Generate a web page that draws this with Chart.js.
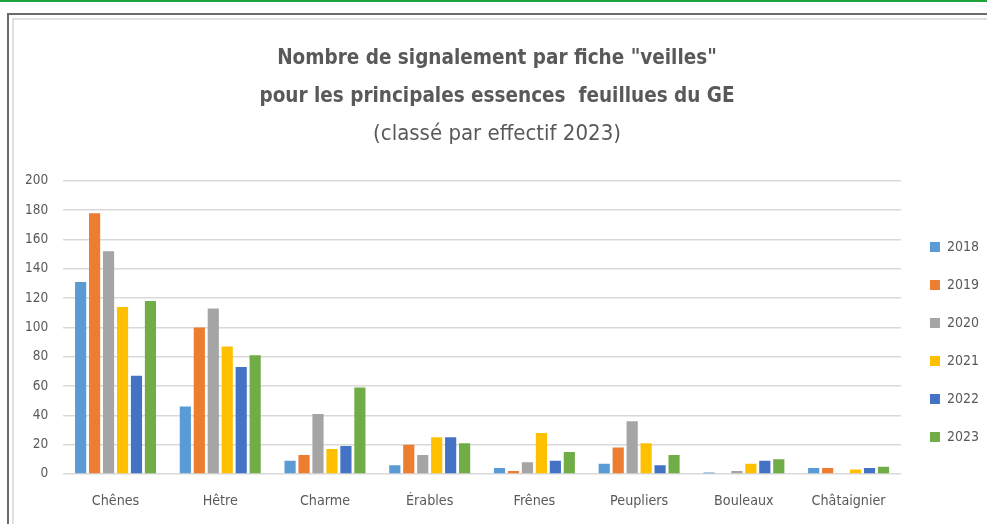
<!DOCTYPE html>
<html lang="fr">
<head>
<meta charset="UTF-8">
<title>Signalements veilles - feuillus GE</title>
<script src="https://cdn.jsdelivr.net/npm/chart.js@4.4.1/dist/chart.umd.min.js"></script>
<style>
    body { margin: 0; background: #fff; width: 987px; height: 524px; overflow: hidden; position: relative; }
    .topline { position: absolute; left: 0; top: 0; width: 987px; height: 2px; background: #1ea33a; }
    .frame { position: absolute; left: 7px; top: 13px; width: 1000px; height: 530px;
             border-left: 2px solid #6b6b6b; border-top: 2px solid #6b6b6b; }
    .inner { position: absolute; left: 3px; top: 3px; width: 1000px; height: 530px;
             border-left: 2px solid #e0e0e0; border-top: 2px solid #e0e0e0; }
    .chart-box { position: absolute; left: 0; top: 20px; width: 987px; height: 504px; }
</style>
</head>
<body>
<div class="topline"></div>
<div class="frame"><div class="inner"></div></div>
<div class="chart-box"><canvas id="veilles"></canvas></div>
<script>
    // essences classées par effectif 2023
    const essences = ["Chênes", "Hêtre", "Charme", "Érables", "Frênes", "Peupliers", "Bouleaux", "Châtaignier"];
    const annees = ["2018", "2019", "2020", "2021", "2022", "2023"];

    const v2018 = [131, 46, 9, 6, 4, 7, 1, 4];
    const v2019 = [178, 100, 13, 20, 2, 18, 0, 4];
    const v2020 = [152, 113, 41, 13, 8, 36, 2, 0];
    const v2021 = [114, 87, 17, 25, 28, 21, 7, 3];
    const v2022 = [67, 73, 19, 25, 9, 6, 9, 4];
    const v2023 = [118, 81, 59, 21, 15, 13, 10, 5];

    const couleurs = ["#5b9bd5", "#ed7d31", "#a5a5a5", "#ffc000", "#4472c4", "#70ad47"];
    const series = [v2018, v2019, v2020, v2021, v2022, v2023];

    const gris = "#595959";
    const police = "'DejaVu Sans Condensed', 'DejaVu Sans', sans-serif";

    // petit decalage de la legende vers la droite (comme dans Excel)
    const legendShift = {
        id: "legendShift",
        afterLayout(chart) {
            chart.legend.left += 5;
            chart.legend.right += 5;
        }
    };

    let ctx = document.getElementById("veilles").getContext("2d");
    let myChart = new Chart(ctx, {
        type: "bar",
        data: {
            labels: essences,
            datasets: annees.map((a, i) => ({
                label: a,
                data: series[i],
                backgroundColor: couleurs[i],
                borderWidth: 0,
                categoryPercentage: 0.8,
                barPercentage: 0.8
            }))
        },
        options: {
            responsive: true,
            maintainAspectRatio: false,
            animation: false,
            layout: { padding: { left: 10, right: 3, top: 10, bottom: 3 } },
            scales: {
                x: {
                    grid: { display: false },
                    border: { display: false },
                    ticks: { color: gris, font: { family: police, size: 14.2 }, padding: 11 }
                },
                y: {
                    min: 0,
                    max: 200,
                    ticks: { stepSize: 20, color: gris, font: { family: police, size: 13.5 }, padding: 15 },
                    grid: { color: "#d9d9d9", lineWidth: 1.5, drawTicks: false },
                    border: { display: false }
                }
            },
            plugins: {
                title: {
                    display: true,
                    text: ['Nombre de signalement par fiche "veilles"', "pour les principales essences  feuillues du GE"],
                    color: gris,
                    font: { family: police, size: 20.5, weight: "bold", lineHeight: 1.85 },
                    padding: { top: 10, bottom: 0 }
                },
                subtitle: {
                    display: true,
                    text: "(classé par effectif 2023)",
                    color: gris,
                    font: { family: police, size: 22, lineHeight: 1.64 },
                    padding: { top: 0, bottom: 29 }
                },
                legend: {
                    position: "right",
                    align: "start",
                    title: { display: true, text: " ", font: { size: 10 }, padding: { top: 0, bottom: 174 } },
                    labels: {
                        color: gris,
                        font: { family: police, size: 14 },
                        boxWidth: 10,
                        boxHeight: 10,
                        padding: 24
                    }
                },
                tooltip: { enabled: false }
            }
        },
        plugins: [legendShift]
    });
</script>
</body>
</html>
